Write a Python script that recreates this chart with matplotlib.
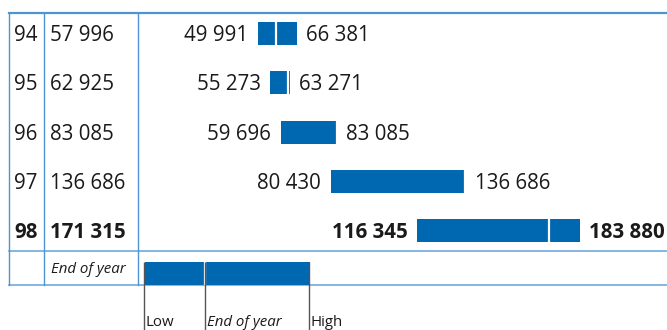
import matplotlib.pyplot as plt

plt.rcParams['font.family'] = ['Open Sans', 'DejaVu Sans']

years = ["94", "95", "96", "97", "98"]
end_of_year = [57996, 62925, 83085, 136686, 171315]
low = [49991, 55273, 59696, 80430, 116345]
high = [66381, 63271, 83085, 136686, 183880]

# key values for the little legend bar underneath the table
key_low, key_end, key_high = 2500, 28200, 71300
key_labels = ["Low", "End of year", "High"]

bar_color = "#0067b1"
line_color = "#4d94d3"
text_color = "#1a1a1a"


def fmt(v):
    return f"{v:,}".replace(",", " ")


W, H = 667, 330
fig = plt.figure(figsize=(W / 100, H / 100), dpi=100)

# frame axes in pixel units for the table rules and the first two columns
fa = fig.add_axes([0, 0, 1, 1])
fa.set_xlim(0, W)
fa.set_ylim(H, 0)
fa.axis("off")

x0 = 137.5
fa.plot([9, W], [12.5, 12.5], color=line_color, lw=1.6)
fa.plot([9, W], [250.5, 250.5], color=line_color, lw=1.2, alpha=0.8)
fa.plot([9, W], [284.5, 284.5], color=line_color, lw=1.2, alpha=0.8)
for xv in (9, 43.5, x0):
    fa.plot([xv, xv], [12.5, 284.5], color=line_color, lw=1.0)

row0, step = 33.5, 49.3
half_cap = 7.5  # baseline sits this many pixels below the row centre
for i, (yr, e) in enumerate(zip(years, end_of_year)):
    bold = "bold" if i == len(years) - 1 else "normal"
    yb = row0 + step * i + half_cap
    fa.text(14, yb, yr, fontsize=14.8, fontweight=bold, color=text_color,
            ha="left", va="baseline")
    fa.text(50, yb, fmt(e), fontsize=14.8, fontweight=bold, color=text_color,
            ha="left", va="baseline")

fa.text(51, 273, "End of year", fontsize=10.8, style="italic",
        color=text_color, ha="left", va="baseline")

# bar axes: x in value units, y in row units
scale = 0.002405
ba = fig.add_axes([x0 / W, 0, (W - x0) / W, 1])
ba.set_xlim(0, (W - x0) / scale)
ba.set_ylim((H - row0) / step, -row0 / step)
ba.axis("off")
ba.patch.set_alpha(0)

bh = 23 / step
dy = -half_cap * 0.72  # pixels to points at 100 dpi
for i in range(len(years)):
    bold = "bold" if i == len(years) - 1 else "normal"
    ba.barh(i, high[i] - low[i], left=low[i], height=bh, color=bar_color)
    ba.vlines(end_of_year[i] - 0.8 / scale, i - bh / 2, i + bh / 2,
              color="white", lw=1.6)
    ba.annotate(fmt(low[i]), (low[i], i), xytext=(-7, dy),
                textcoords="offset points", ha="right", va="baseline",
                fontsize=14.8, fontweight=bold, color=text_color)
    ba.annotate(fmt(high[i]), (high[i], i), xytext=(6.5, dy),
                textcoords="offset points", ha="left", va="baseline",
                fontsize=14.8, fontweight=bold, color=text_color)

# legend key
ky = (273.5 - row0) / step
ba.barh(ky, key_high - key_low, left=key_low + 1.5 / scale, height=bh,
        color=bar_color)
ba.vlines(key_end - 0.5 / scale, ky - bh / 2, ky + bh / 2, color="white", lw=1.6)
y_top = (262 - row0) / step
y_bot = (H - row0) / step
base = (325.5 - row0) / step
for xv, lab in zip((key_low, key_end, key_high), key_labels):
    ba.vlines(xv, y_top, y_bot, color="#555555", lw=1.0)
    ba.text(xv + 1.5 / scale, base, lab, fontsize=10.8, color=text_color,
            style="italic" if lab == "End of year" else "normal",
            ha="left", va="baseline")

fig.savefig("out.png", dpi=100)
